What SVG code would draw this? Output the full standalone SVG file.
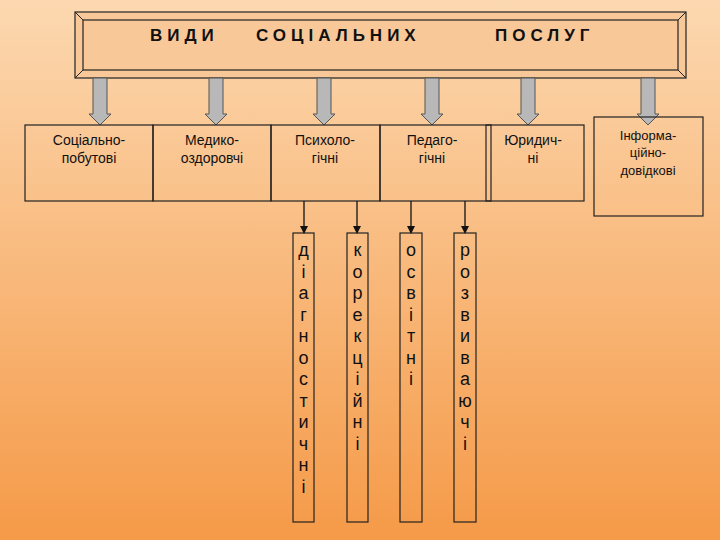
<svg xmlns="http://www.w3.org/2000/svg" width="720" height="540" viewBox="0 0 720 540">
<defs>
<linearGradient id="bg" x1="0" y1="0" x2="0" y2="1"><stop offset="0" stop-color="#fcd8b0"/><stop offset="1" stop-color="#f59a48"/></linearGradient>
<marker id="ah" markerWidth="8" markerHeight="8" refX="7" refY="4" orient="auto" markerUnits="userSpaceOnUse"><path d="M0,0 L8,4 L0,8 Z" fill="#111"/></marker>
<g id="blk"><path d="M-7,0 H7 V36 H11 L0,47 L-11,36 H-7 Z" fill="#b8b8b8" stroke="#555" stroke-width="1"/></g>
</defs>
<style>
.b{fill:none;stroke:#222;stroke-width:1.2}
.t{font-family:"Liberation Sans",Arial,sans-serif;font-size:14px;text-anchor:middle;fill:#111}
.v{font-family:"Liberation Sans",Arial,sans-serif;font-size:18px;text-anchor:middle;fill:#111}
.h{font-family:"Liberation Sans",Arial,sans-serif;font-size:17px;font-weight:bold;letter-spacing:5px;fill:#111}
.c{stroke:#111;stroke-width:1.3;fill:none}
</style>
<rect width="720" height="540" fill="url(#bg)"/>
<g id="header">
<rect x="75" y="12" width="611" height="66" fill="#f8c898" stroke="#222" stroke-width="1.2"/>
<rect x="83" y="20" width="595" height="50" fill="none" stroke="#222" stroke-width="1.2"/>
<path d="M75,12 L83,20 M686,12 L678,20 M75,78 L83,70 M686,78 L678,70" stroke="#222" stroke-width="1"/>
<text class="h" x="150" y="41">ВИДИ</text>
<text class="h" x="256" y="41">СОЦІАЛЬНИХ</text>
<text class="h" x="495" y="41">ПОСЛУГ</text>
</g>
<g id="arrows">
<use href="#blk" x="100" y="78"/><use href="#blk" x="216" y="78"/><use href="#blk" x="324" y="78"/>
<use href="#blk" x="432" y="78"/><use href="#blk" x="528" y="78"/><use href="#blk" x="648" y="78"/>
</g>
<g id="n1"><rect class="b" x="25" y="125" width="128" height="76"/><text class="t" x="89" y="145">Соціально-</text><text class="t" x="89" y="163">побутові</text></g>
<g id="n2"><rect class="b" x="153" y="125" width="118" height="76"/><text class="t" x="212" y="145">Медико-</text><text class="t" x="212" y="163">оздоровчі</text></g>
<g id="n3"><rect class="b" x="271" y="125" width="109" height="76"/><text class="t" x="325" y="145">Психоло-</text><text class="t" x="325" y="163">гічні</text></g>
<g id="n4"><rect class="b" x="380" y="125" width="111" height="76"/><text class="t" x="432" y="145">Педаго-</text><text class="t" x="432" y="163">гічні</text></g>
<g id="n5"><rect class="b" x="486" y="125" width="98" height="76"/><text class="t" x="533" y="145">Юридич-</text><text class="t" x="533" y="163">ні</text></g>
<g id="n6"><rect class="b" x="594" y="117" width="109" height="99"/><text class="t" x="648" y="140" style="font-size:13px">Інформа-</text><text class="t" x="648" y="157" style="font-size:13px">ційно-</text><text class="t" x="648" y="175" style="font-size:13px">довідкові</text></g>
<g id="connectors">
<line class="c" x1="304" y1="201" x2="304" y2="233" marker-end="url(#ah)"/>
<line class="c" x1="357" y1="201" x2="357" y2="233" marker-end="url(#ah)"/>
<line class="c" x1="411" y1="201" x2="411" y2="233" marker-end="url(#ah)"/>
<line class="c" x1="465" y1="201" x2="465" y2="233" marker-end="url(#ah)"/>
</g>
<g id="v1"><rect class="b" x="293" y="233" width="21" height="289"/>
<text class="v" x="303.5" y="256"><tspan x="303.5" dy="0">д</tspan><tspan x="303.5" dy="21.5">і</tspan><tspan x="303.5" dy="21.5">а</tspan><tspan x="303.5" dy="21.5">г</tspan><tspan x="303.5" dy="21.5">н</tspan><tspan x="303.5" dy="21.5">о</tspan><tspan x="303.5" dy="21.5">с</tspan><tspan x="303.5" dy="21.5">т</tspan><tspan x="303.5" dy="21.5">и</tspan><tspan x="303.5" dy="21.5">ч</tspan><tspan x="303.5" dy="21.5">н</tspan><tspan x="303.5" dy="21.5">і</tspan></text></g>
<g id="v2"><rect class="b" x="347" y="233" width="21" height="289"/>
<text class="v" x="357.5" y="256"><tspan x="357.5" dy="0">к</tspan><tspan x="357.5" dy="21.5">о</tspan><tspan x="357.5" dy="21.5">р</tspan><tspan x="357.5" dy="21.5">е</tspan><tspan x="357.5" dy="21.5">к</tspan><tspan x="357.5" dy="21.5">ц</tspan><tspan x="357.5" dy="21.5">і</tspan><tspan x="357.5" dy="21.5">й</tspan><tspan x="357.5" dy="21.5">н</tspan><tspan x="357.5" dy="21.5">і</tspan></text></g>
<g id="v3"><rect class="b" x="400" y="233" width="22" height="289"/>
<text class="v" x="411" y="256"><tspan x="411" dy="0">о</tspan><tspan x="411" dy="21.5">с</tspan><tspan x="411" dy="21.5">в</tspan><tspan x="411" dy="21.5">і</tspan><tspan x="411" dy="21.5">т</tspan><tspan x="411" dy="21.5">н</tspan><tspan x="411" dy="21.5">і</tspan></text></g>
<g id="v4"><rect class="b" x="454" y="233" width="22" height="289"/>
<text class="v" x="465" y="256"><tspan x="465" dy="0">р</tspan><tspan x="465" dy="21.5">о</tspan><tspan x="465" dy="21.5">з</tspan><tspan x="465" dy="21.5">в</tspan><tspan x="465" dy="21.5">и</tspan><tspan x="465" dy="21.5">в</tspan><tspan x="465" dy="21.5">а</tspan><tspan x="465" dy="21.5">ю</tspan><tspan x="465" dy="21.5">ч</tspan><tspan x="465" dy="21.5">і</tspan></text></g>
</svg>
